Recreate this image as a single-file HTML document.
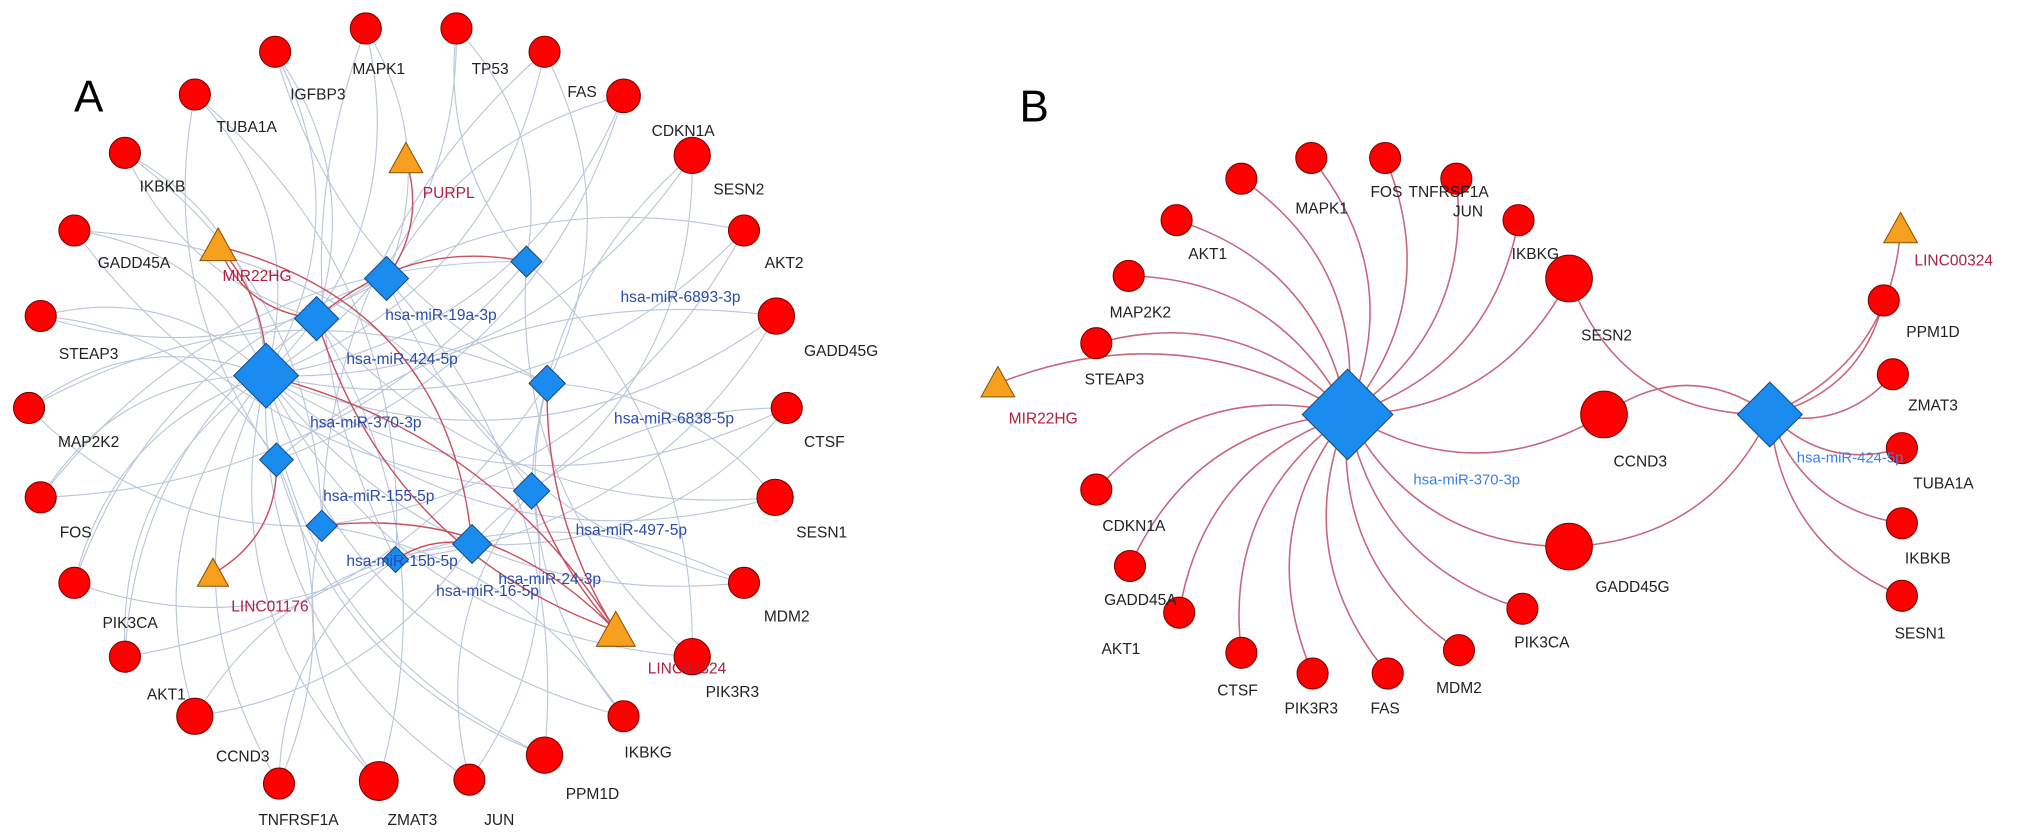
<!DOCTYPE html>
<html><head><meta charset="utf-8"><style>
html,body{margin:0;padding:0;background:#fff;}
svg{display:block;}
text{font-family:"Liberation Sans",sans-serif;}
.l{font-size:12px;fill:#222;text-anchor:middle;}
.r{font-size:12px;fill:#b02040;text-anchor:middle;}
.b{font-size:12px;fill:#2a4aa8;text-anchor:middle;}
.bb{font-size:11.5px;fill:#3a80e8;text-anchor:middle;}
.c{fill:#f00;stroke:#7a0000;stroke-width:0.8;}
.d{fill:#1a8cf0;stroke:#1a4a80;stroke-width:0.8;}
.t{fill:#f7a020;stroke:#8a5000;stroke-width:0.8;}
</style></head><body>
<svg id="s" width="2032" height="838" viewBox="0 0 1568 647" xmlns="http://www.w3.org/2000/svg">
<g id="edges" fill="none"></g>
<g id="nodes"></g>
<text x="68" y="86" style="font-size:34px;fill:#000;text-anchor:middle">A</text>
<text x="798" y="94" style="font-size:34px;fill:#000;text-anchor:middle">B</text>
<text class="l" x="245" y="77">IGFBP3</text>
<text class="l" x="292" y="57">MAPK1</text>
<text class="l" x="378" y="57">TP53</text>
<text class="l" x="449" y="75">FAS</text>
<text class="l" x="527" y="105">CDKN1A</text>
<text class="l" x="570" y="150">SESN2</text>
<text class="l" x="605" y="207">AKT2</text>
<text class="l" x="649" y="275">GADD45G</text>
<text class="l" x="636" y="345">CTSF</text>
<text class="l" x="634" y="415">SESN1</text>
<text class="l" x="607" y="480">MDM2</text>
<text class="l" x="565" y="538">PIK3R3</text>
<text class="l" x="500" y="585">IKBKG</text>
<text class="l" x="457" y="617">PPM1D</text>
<text class="l" x="385" y="637">JUN</text>
<text class="l" x="318" y="637">ZMAT3</text>
<text class="l" x="230" y="637">TNFRSF1A</text>
<text class="l" x="187" y="588">CCND3</text>
<text class="l" x="128" y="540">AKT1</text>
<text class="l" x="100" y="485">PIK3CA</text>
<text class="l" x="58" y="415">FOS</text>
<text class="l" x="68" y="345">MAP2K2</text>
<text class="l" x="68" y="277">STEAP3</text>
<text class="l" x="103" y="207">GADD45A</text>
<text class="l" x="125" y="148">IKBKB</text>
<text class="l" x="190" y="102">TUBA1A</text>
<text class="r" x="346" y="153">PURPL</text>
<text class="r" x="198" y="217">MIR22HG</text>
<text class="r" x="208" y="472">LINC01176</text>
<text class="r" x="530" y="520">LINC00324</text>
<text class="b" x="340" y="247">hsa-miR-19a-3p</text>
<text class="b" x="525" y="233">hsa-miR-6893-3p</text>
<text class="b" x="310" y="281">hsa-miR-424-5p</text>
<text class="b" x="282" y="330">hsa-miR-370-3p</text>
<text class="b" x="520" y="327">hsa-miR-6838-5p</text>
<text class="b" x="292" y="387">hsa-miR-155-5p</text>
<text class="b" x="487" y="413">hsa-miR-497-5p</text>
<text class="b" x="310" y="437">hsa-miR-15b-5p</text>
<text class="b" x="424" y="451">hsa-miR-24-3p</text>
<text class="b" x="376" y="460">hsa-miR-16-5p</text>
<text class="l" x="932" y="200">AKT1</text>
<text class="l" x="1020" y="165">MAPK1</text>
<text class="l" x="1070" y="152">FOS</text>
<text class="l" x="1118" y="152">TNFRSF1A</text>
<text class="l" x="1133" y="167">JUN</text>
<text class="l" x="1185" y="200">IKBKG</text>
<text class="l" x="880" y="245">MAP2K2</text>
<text class="l" x="860" y="297">STEAP3</text>
<text class="l" x="1240" y="263">SESN2</text>
<text class="l" x="1266" y="360">CCND3</text>
<text class="l" x="1260" y="457">GADD45G</text>
<text class="l" x="875" y="410">CDKN1A</text>
<text class="l" x="880" y="467">GADD45A</text>
<text class="l" x="865" y="505">AKT1</text>
<text class="l" x="955" y="537">CTSF</text>
<text class="l" x="1012" y="551">PIK3R3</text>
<text class="l" x="1069" y="551">FAS</text>
<text class="l" x="1126" y="535">MDM2</text>
<text class="l" x="1190" y="500">PIK3CA</text>
<text class="r" x="1508" y="205">LINC00324</text>
<text class="l" x="1492" y="260">PPM1D</text>
<text class="l" x="1492" y="317">ZMAT3</text>
<text class="l" x="1500" y="377">TUBA1A</text>
<text class="l" x="1488" y="435">IKBKB</text>
<text class="l" x="1482" y="493">SESN1</text>
<text class="r" x="805" y="327">MIR22HG</text>
<text class="bb" x="1132" y="374">hsa-miR-370-3p</text>
<text class="bb" x="1428" y="357">hsa-miR-424-5p</text>
</svg>
<script>
(function(){
var NS="http://www.w3.org/2000/svg";
var E=document.getElementById("edges"),N=document.getElementById("nodes");
function el(p,t,a){var e=document.createElementNS(NS,t);for(var k in a)e.setAttribute(k,a[k]);p.appendChild(e);return e;}
function curve(a,b,bend,col,w){var dx=b[0]-a[0],dy=b[1]-a[1];var mx=(a[0]+b[0])/2-dy*bend,my=(a[1]+b[1])/2+dx*bend;
el(E,"path",{d:"M"+a[0]+","+a[1]+" Q"+mx+","+my+" "+b[0]+","+b[1],stroke:col,"stroke-width":w});}
function circ(p,r){el(N,"circle",{cx:p[0],cy:p[1],r:r,"class":"c"});}
function dia(p,h){el(N,"polygon",{points:(p[0])+","+(p[1]-h)+" "+(p[0]+h)+","+p[1]+" "+p[0]+","+(p[1]+h)+" "+(p[0]-h)+","+p[1],"class":"d"});}
function tri(p,s){el(N,"polygon",{points:p[0]+","+(p[1]-s)+" "+(p[0]+s)+","+(p[1]+s*0.8)+" "+(p[0]-s)+","+(p[1]+s*0.8),"class":"t"});}
var CA=[[212,40],[282,22],[352,22],[420,40],[481,74],[534,120],[574,178],[599,244],[607,315],[598,384],[574,450],[534,507],[481,553],[420,583],[362,602],[292,603],[215,605],[150,553],[96,507],[57,450],[31,384],[22,315],[31,244],[57,178],[96,118],[150,73]];
var CR=[12,12,12,12,13,14,12,14,12,14,12,14,12,14,12,15,12,14,12,12,12,12,12,12,12,12];
var D=[[205,290,25],[244,246,17],[298,215,17],[406,202,12],[422,296,14],[213,355,13],[410,379,14],[248,406,12],[305,432,10],[364,420,15]];
var BL="#b9c5d9";
CA.forEach(function(c,i){
 curve(D[0],c,0.28,BL,0.85);
 curve(D[1+(i%9)],c,0.25,BL,0.85);
 curve(D[1+((i*4+3)%9)],c,-0.22,BL,0.85);
});
var T={P:[313,123],M:[168,190],L1:[164,443],L3:[475,487]};
var RD="#c8505e";
curve(T.M,D[0],-0.2,RD,1.1);curve(T.M,D[1],0.3,RD,1.1);curve(T.M,D[9],-0.35,RD,1.1);
curve(T.P,D[2],-0.25,RD,1.1);curve(D[1],D[3],-0.25,RD,1.1);
curve(T.L1,D[5],0.3,RD,1.1);curve(D[0],T.L3,-0.2,RD,1.1);curve(D[1],T.L3,0.25,RD,1.1);
curve(D[4],T.L3,0.15,RD,1.1);curve(D[6],T.L3,0.1,RD,1.1);curve(D[7],T.L3,-0.25,RD,1.1);curve(D[8],D[9],-0.2,RD,1.1);
CA.forEach(function(c,i){circ(c,CR[i]);});
D.forEach(function(d){dia(d,d[2]);});
tri(T.P,13);tri(T.M,14);tri(T.L1,12);tri(T.L3,15);
var B1=[1040,320],B2=[1366,320];
var LB=[[958,138],[1012,122],[1069,122],[1124,138],[1172,170],[908,170],[871,213],[846,265],[846,378],[872,437],[910,473],[958,504],[1013,520],[1071,520],[1126,502],[1175,470]];
var R2="#c8667a";
LB.forEach(function(c){curve(B1,c,0.3,R2,1.2);});
var MIR=[770,296];curve(B1,MIR,0.25,R2,1.2);
var BIG=[[1211,215],[1238,320],[1211,422]];
curve(B1,BIG[0],0.3,R2,1.2);curve(B1,BIG[1],0.3,R2,1.2);curve(B1,BIG[2],0.3,R2,1.2);
curve(B2,BIG[0],-0.35,R2,1.2);curve(B2,BIG[1],0.35,R2,1.2);curve(B2,BIG[2],-0.3,R2,1.2);
var RB=[[1467,177],[1454,232],[1461,289],[1468,346],[1468,404],[1468,460]];
RB.forEach(function(c){curve(B2,c,0.3,R2,1.2);});
LB.forEach(function(c){circ(c,12);});
BIG.forEach(function(c){circ(c,18);});
RB.slice(1).forEach(function(c){circ(c,12);});
tri(RB[0],13);tri(MIR,13);
dia(B1,35);dia(B2,25);
})();
</script>
</body></html>
